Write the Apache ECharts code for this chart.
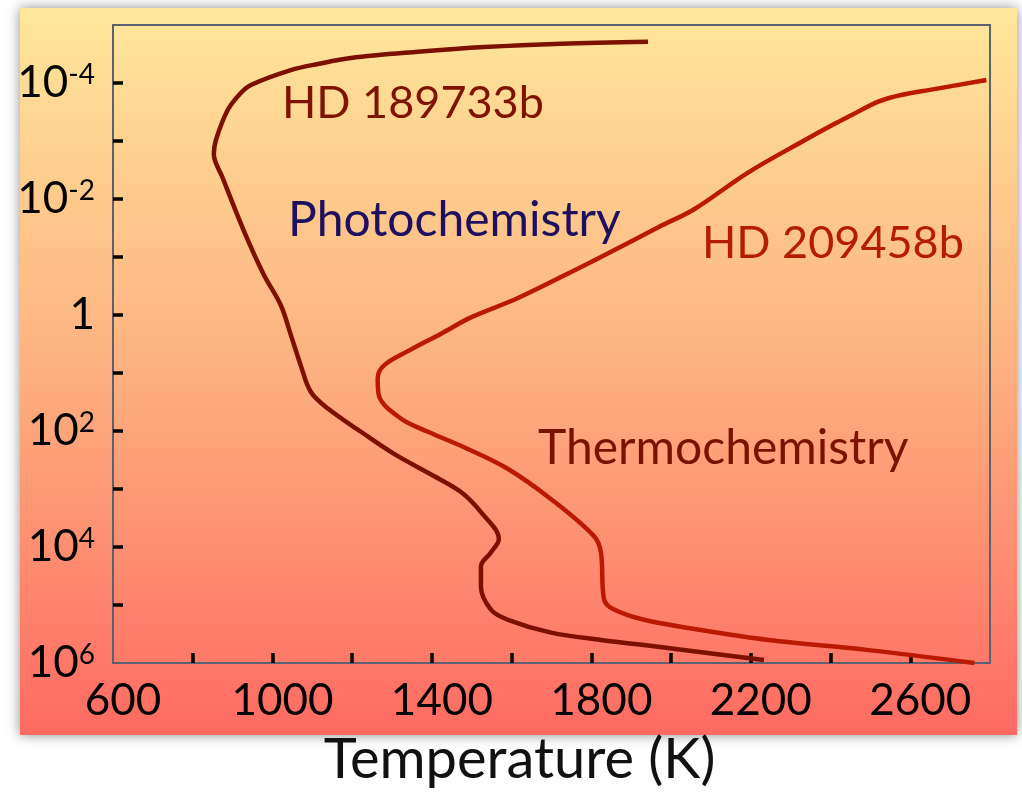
<!DOCTYPE html>
<html>
<head>
<meta charset="utf-8">
<script src="https://cdn.jsdelivr.net/npm/echarts@6/dist/echarts.min.js"></script>
<style>
html,body{margin:0;padding:0;background:#fff;}
#chart{width:1022px;height:797px;}
</style>
</head>
<body>
<div id="chart"></div>
<script>
// HD 189733b temperature–pressure profile (K, bar), top of atmosphere first
const hd189733bTemp = [1942, 1724, 1531, 1365, 1197, 1114, 1046, 946, 920, 888, 858, 853, 875, 928, 978, 1021, 1046, 1071, 1096, 1139, 1222, 1305, 1405, 1473, 1523, 1568, 1548, 1523, 1523, 1548, 1591, 1699, 1824, 1992, 2233];
const hd189733bPres = [1.95e-5, 2.1e-5, 2.4e-5, 2.9e-5, 3.7e-5, 4.7e-5, 6.0e-5, 1.08e-4, 1.5e-4, 2.9e-4, 9.7e-4, 1.7e-3, 4.3e-3, 0.035, 0.20, 0.68, 2.2, 7.4, 21, 41, 103, 248, 597, 1130, 2510, 7380, 12400, 21700, 48200, 1.2e5, 1.8e5, 3.0e5, 4.0e5, 5.5e5, 8.9e5];
// HD 209458b temperature–pressure profile (K, bar)
const hd209458bTemp = [2791, 2653, 2577, 2520, 2452, 2409, 2326, 2193, 2058, 1975, 1824, 1782, 1616, 1498, 1423, 1340, 1280, 1264, 1267, 1322, 1390, 1490, 1591, 1699, 1807, 1824, 1832, 1857, 1932, 2075, 2244, 2495, 2761];
const hd209458bPres = [8.9e-5, 1.3e-4, 1.61e-4, 2.1e-4, 3.6e-4, 5.1e-4, 1.05e-3, 3.5e-3, 0.015, 0.029, 0.10, 0.14, 0.51, 1.1, 2.1, 4.2, 7.4, 12.4, 24.5, 61, 103, 204, 452, 1500, 6550, 12400, 81000, 1.2e5, 1.8e5, 2.7e5, 4.0e5, 6.0e5, 1.0e6];
// axis tick labels
const xLabelValues = [600, 1000, 1400, 1800, 2200, 2600];
const xTickValues = [800, 1000, 1200, 1400, 1600, 1800, 2000, 2200, 2400, 2600];
const yTickValues = [1e-4, 1e-3, 1e-2, 1e-1, 1, 10, 100, 1e3, 1e4, 1e5];
const yLabelExponents = [-4, -2, 0, 2, 4, 6];
const annotations = ['HD 189733b', 'Photochemistry', 'HD 209458b', 'Thermochemistry'];
const xTitle = 'Temperature (K)';

const FONT = 'Lato, "Open Sans", sans-serif';
const pairs = (t, p) => t.map((v, i) => [v, p[i]]);

const chart = echarts.init(document.getElementById('chart'), null, {renderer: 'canvas'});
chart.setOption({
  backgroundColor: '#ffffff',
  animation: false,
  grid: {left: 113, right: 32, top: 25, bottom: 134, show: true, borderColor: '#5b6170', borderWidth: 2, backgroundColor: 'transparent'},
  xAxis: {
    type: 'value', min: 600, max: 2800, interval: 200,
    splitLine: {show: false},
    axisLine: {show: false},
    axisTick: {show: true, inside: true, length: 10, customValues: xTickValues, lineStyle: {color: '#000', width: 3.5}},
    axisLabel: {customValues: xLabelValues, margin: 16, fontSize: 44, fontFamily: FONT, color: '#000', padding: [0, 0, 0, 20],
      formatter: function (v) { return String(v); }},
    name: xTitle, nameLocation: 'middle', nameGap: 69,
    nameTextStyle: {fontSize: 56, fontFamily: FONT, color: '#111', padding: [0, 64, 0, 0]}
  },
  yAxis: {
    type: 'log', logBase: 10, min: 1e-5, max: 1e6, interval: 1, inverse: true,
    splitLine: {show: false},
    axisLine: {show: false},
    axisTick: {show: true, inside: true, length: 10, customValues: yTickValues, lineStyle: {color: '#000', width: 3.5}},
    axisLabel: {
      margin: 18, color: '#000', fontFamily: FONT,
      formatter: function (v) {
        const e = Math.round(Math.log10(v));
        if (yLabelExponents.indexOf(e) < 0) return '';
        if (e === 0) return '{b|1}';
        return '{b|10}{s|' + e + '}';
      },
      rich: {
        b: {fontSize: 44, lineHeight: 44, fontFamily: FONT, color: '#000'},
        s: {fontSize: 28, lineHeight: 30, fontFamily: FONT, color: '#000', verticalAlign: 'top'}
      }
    }
  },
  graphic: {elements: [
    {type: 'rect', z: -100, shape: {x: 20, y: 8, width: 997, height: 727},
     style: {fill: new echarts.graphic.LinearGradient(0, 0, 0, 1, [
       {offset: 0, color: '#FFE79A'}, {offset: 0.5, color: '#FDB07F'}, {offset: 1, color: '#FF6A62'}]),
       shadowBlur: 12, shadowColor: 'rgba(0,0,0,0.45)'}},
    {type: 'text', z: 100, x: 282, y: 103, style: {text: annotations[0], font: '45px ' + FONT, fill: '#7f1200', verticalAlign: 'middle'}},
    {type: 'text', z: 100, x: 288, y: 221, style: {text: annotations[1], font: '48px ' + FONT, fill: '#1d1060', verticalAlign: 'middle',
      shadowBlur: 6, shadowColor: 'rgba(90,30,0,0.55)', shadowOffsetX: 2, shadowOffsetY: 2}},
    {type: 'text', z: 100, x: 702, y: 243, style: {text: annotations[2], font: '45px ' + FONT, fill: '#b51c00', verticalAlign: 'middle'}},
    {type: 'text', z: 100, x: 538, y: 449, style: {text: annotations[3], font: '48px ' + FONT, fill: '#7a1200', verticalAlign: 'middle',
      shadowBlur: 6, shadowColor: 'rgba(90,30,0,0.55)', shadowOffsetX: 2, shadowOffsetY: 2}}
  ]},
  series: [
    {name: 'HD 189733b', type: 'line', data: pairs(hd189733bTemp, hd189733bPres), showSymbol: false, smooth: 0.35,
     lineStyle: {color: '#7d1000', width: 4.5}},
    {name: 'HD 209458b', type: 'line', data: pairs(hd209458bTemp, hd209458bPres), showSymbol: false, smooth: 0.35,
     lineStyle: {color: '#bb1a00', width: 4.5}}
  ]
});
</script>
</body>
</html>
